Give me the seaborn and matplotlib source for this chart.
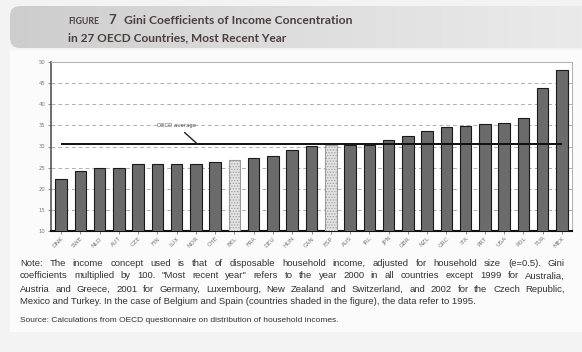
import numpy as np
import pandas as pd
import matplotlib
matplotlib.use("Agg")
import matplotlib.pyplot as plt
from matplotlib.patches import FancyBboxPatch
import seaborn as sns

countries = ["DNK", "SWE", "NLD", "AUT", "CZE", "FIN", "LUX", "NOR", "CHE", "BEL",
             "FRA", "DEU", "HUN", "CAN", "ESP", "AUS", "IRL", "JPN", "GBR", "NZL",
             "GRC", "ITA", "PRT", "USA", "POL", "TUR", "MEX"]
gini = [22.3, 24.2, 24.8, 24.9, 25.9, 25.9, 25.9, 25.9, 26.4, 26.9,
        27.3, 27.8, 29.2, 30.1, 30.3, 30.4, 30.4, 31.5, 32.4, 33.7,
        34.5, 34.8, 35.4, 35.6, 36.8, 43.8, 48.0]
shaded = ["BEL", "ESP"]
oecd_average = 30.5
yticks = [10, 15, 20, 25, 30, 35, 40, 45, 50]

title_tag = "FIGURE"
title_num = "7"
title_l1 = "Gini Coefficients of Income Concentration"
title_l2 = "in 27 OECD Countries, Most Recent Year"
note_lines = [
    "Note: The income concept used is that of disposable household income, adjusted for household size (e=0.5). Gini",
    "coefficients multiplied by 100.  \"Most recent year\" refers to the year 2000 in all countries except 1999 for Australia,",
    "Austria and Greece, 2001 for Germany, Luxembourg, New Zealand and Switzerland, and 2002 for the Czech Republic,",
    "Mexico and Turkey. In the case of Belgium and Spain (countries shaded in the figure), the data refer to 1995.",
]
justify = [True, True, True, False]
source_line = "Source: Calculations from OECD questionnaire on distribution of household incomes."

df = pd.DataFrame({"country": countries, "gini": gini})

W, H = 582, 352
fig = plt.figure(figsize=(W / 100, H / 100), dpi=100, facecolor="#f3f3f3")

# header band with gradient
hax = fig.add_axes([0, 0, 1, 1], zorder=0)
hax.set_xlim(0, W); hax.set_ylim(H, 0); hax.axis("off")
grad = np.linspace(0, 1, 256)[None, :]
im = hax.imshow(grad, extent=[10, W + 20, 48, 6], cmap=matplotlib.colors.LinearSegmentedColormap.from_list(
    "g", ["#cdcdcd", "#dedede", "#ebebeb"]), aspect="auto")
patch = FancyBboxPatch((10, 6), W + 20, 42, boxstyle="round,pad=0,rounding_size=10",
                       transform=hax.transData, facecolor="none", edgecolor="none")
hax.add_patch(patch)
im.set_clip_path(patch)
hax.add_patch(plt.Rectangle((10, 50), W, 282, facecolor="#fbfbfb", edgecolor="none"))

tc = "#4a3f3c"
fig.text(68 / W, 1 - 21 / H, title_tag, fontsize=6.3, fontweight="bold", color=tc,
         family="Lato", va="center")
fig.text(108 / W, 1 - 20 / H, title_num, fontsize=9.5, fontweight="bold", color=tc,
         family="Lato", va="center")
fig.text(124 / W, 1 - 21 / H, title_l1, fontsize=8.7, fontweight="bold", color=tc,
         family="Lato", va="center")
fig.text(68 / W, 1 - 38 / H, title_l2, fontsize=8.6, fontweight="bold", color=tc,
         family="Lato", va="center")

ax = fig.add_axes([51 / W, 1 - 231 / H, 521 / W, 169 / H], zorder=2)
ax.set_facecolor("white")
colors = ["#e4e4e4" if c in shaded else "#6b6b6b" for c in countries]
matplotlib.rcParams["hatch.linewidth"] = 0.6
sns.barplot(data=df, x="country", y="gini", hue="country", palette=colors, legend=False,
            width=0.6, edgecolor="#1a1a1a", linewidth=0.8, ax=ax, zorder=3)
for patch_, c in zip(ax.patches, countries):
    if c in shaded:
        patch_.set_hatch("......")
        patch_.set_edgecolor("#9a9a9a")

ax.set_ylim(10, 50)
ax.set_xlim(-0.52, len(countries) - 0.48)
ax.set_yticks(yticks)
ax.set_yticklabels([str(t) for t in yticks], fontsize=3.8, color="#777777")
ax.tick_params(axis="y", length=2, width=0.6, color="#777777", pad=2)
ax.tick_params(axis="x", length=2, width=0.6, color="#777777", pad=1.5)
ax.set_xticks(range(len(countries)))
ax.set_xticklabels(countries, rotation=45, ha="right", fontsize=4.3, color="#777777",
                   rotation_mode="anchor")
ax.set_xlabel(""); ax.set_ylabel("")
ax.yaxis.grid(True, linestyle=(0, (4, 3)), color="#b0b0b0", linewidth=0.7, zorder=0)
ax.set_axisbelow(True)
for s in ["top", "right"]:
    ax.spines[s].set_color("#b5b5b5"); ax.spines[s].set_linewidth(0.8)
ax.spines["left"].set_color("#555555"); ax.spines["left"].set_linewidth(1.2)
ax.spines["bottom"].set_color("#111111"); ax.spines["bottom"].set_linewidth(1.5)

ax.hlines(oecd_average, 0, len(countries) - 1, color="#111111", linewidth=1.4, zorder=5)
ax.annotate("OECD average", xy=(7.1, oecd_average), xytext=(6.0, 35.0),
            fontsize=3.9, color="#555555", ha="center", va="center",
            arrowprops=dict(arrowstyle="-", color="#222222", lw=1.0, shrinkA=2, shrinkB=0),
            zorder=6)

# notes (first three lines justified to the right margin)
renderer = fig.canvas.get_renderer()
note_kw = dict(fontsize=6.8, color="#333333", family="Liberation Sans", va="center")
x_left, x_right = 20, 565
y0 = 263
for i, line in enumerate(note_lines):
    yy = 1 - (y0 + i * 13) / H
    if not justify[i]:
        fig.text(x_left / W, yy, line, **note_kw)
        continue
    words = line.split()
    widths = []
    for w_ in words:
        t = fig.text(0, 0, w_, **note_kw)
        widths.append(t.get_window_extent(renderer).width)
        t.remove()
    gap = (x_right - x_left - sum(widths)) / (len(words) - 1)
    x = x_left
    for w_, wd in zip(words, widths):
        fig.text(x / W, yy, w_, **note_kw)
        x += wd + gap
fig.text(20 / W, 1 - 320 / H, source_line, fontsize=6.05, color="#333333",
         family="Liberation Sans", va="center")

fig.savefig("out.png", dpi=100, facecolor=fig.get_facecolor())
